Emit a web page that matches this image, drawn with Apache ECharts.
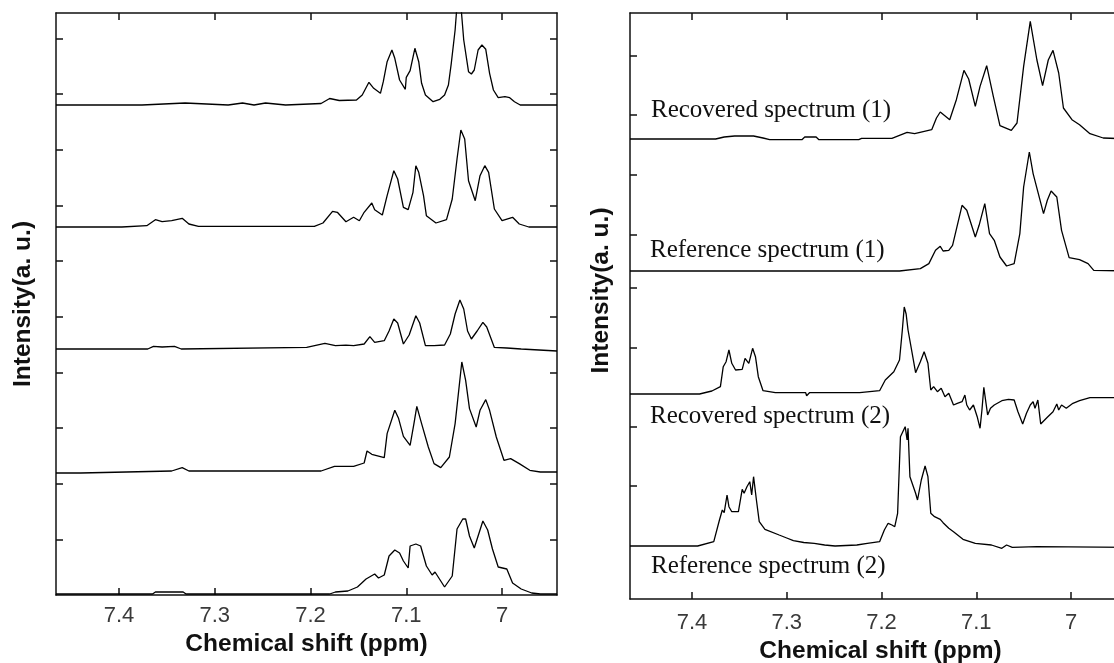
<!DOCTYPE html>
<html><head><meta charset="utf-8">
<script src="https://cdn.jsdelivr.net/npm/echarts@6/dist/echarts.min.js"></script>
<style>html,body{margin:0;padding:0;overflow:hidden;background:#fff}#c{width:1140px;height:663px}</style>
</head><body><div id="c"></div><script>
// ---- tick values / labels ----
const xTicks = [7.4, 7.3, 7.2, 7.1, 7.0];
const xTickLabels = ['7.4', '7.3', '7.2', '7.1', '7'];
const leftYTicks = [55.7, 111.3, 167, 222.7, 278.3, 334, 389.7, 445.3, 501, 556.7];
const rightYTicks = [113, 172.3, 251.7, 311.7, 364.7, 424.7, 484, 543.3];

// ---- left panel spectra: [ppm, intensity above own baseline] ----
const L1 = [[7.4658,0],[7.376,0],[7.374,2],[7.331,2],[7.329,0],[7.286,0],[7.284,2],[7.271,2],[7.269,0],[7.259,0],[7.257,2],[7.247,2],[7.245,0],[7.226,0],[7.224,1.5],[7.189,1.5],[7.180,6.5],[7.170,4.5],[7.152,5],[7.146,10],[7.139,22.7],[7.134,16.7],[7.127,11.7],[7.124,23.3],[7.120,43.3],[7.115,55],[7.112,46.7],[7.107,25],[7.101,15.7],[7.100,27.7],[7.096,34.3],[7.091,56.7],[7.087,43.3],[7.084,21.7],[7.080,10],[7.072,3.3],[7.065,5.7],[7.060,10],[7.056,20],[7.053,41.7],[7.049,75],[7.047,100],[7.043,100],[7.040,65],[7.035,33.3],[7.032,31],[7.029,35],[7.025,55],[7.021,60],[7.017,55.7],[7.013,31.7],[7.009,15],[7.004,7.3],[6.997,8.3],[6.992,7.3],[6.987,3.3],[6.981,0],[6.9426,0]];
const L2 = [[7.4658,0],[7.397,0],[7.395,1.3],[7.371,1.3],[7.362,7.3],[7.355,5.3],[7.345,6.3],[7.334,8.7],[7.327,3],[7.317,0.7],[7.258,0.7],[7.256,-1],[7.252,0.7],[7.196,0.7],[7.187,4],[7.177,15.7],[7.172,14.7],[7.163,5.3],[7.155,9.7],[7.149,6.3],[7.144,14.7],[7.136,24],[7.133,17.3],[7.125,12],[7.120,31.3],[7.113,56.3],[7.109,48],[7.103,19.7],[7.098,17.3],[7.093,34.7],[7.090,61.3],[7.087,54.7],[7.082,31.3],[7.079,11.3],[7.069,4],[7.058,7.3],[7.052,28],[7.047,68],[7.043,97],[7.039,88],[7.035,46.3],[7.028,26.3],[7.023,51.3],[7.018,61.3],[7.014,54.7],[7.008,18],[7.000,6.3],[6.989,9.7],[6.982,3],[6.972,0],[6.9426,0]];
const L3 = [[7.4658,0],[7.370,0],[7.364,2.6],[7.355,2],[7.342,2.6],[7.335,0],[7.204,1.6],[7.185,5.6],[7.174,3.3],[7.163,3.8],[7.155,3.3],[7.144,5],[7.138,12.3],[7.133,6.6],[7.123,8.3],[7.118,18],[7.113,30],[7.109,26],[7.103,5],[7.097,14],[7.090,33.3],[7.086,26],[7.080,3.3],[7.071,3.3],[7.060,4],[7.054,15],[7.049,35],[7.044,49],[7.040,40],[7.036,18],[7.032,10],[7.026,18],[7.020,26.6],[7.016,22],[7.008,1.6],[6.995,1],[6.980,0],[6.9426,-2]];
const L4 = [[7.4658,-1],[7.44,-1],[7.438,1],[7.345,1],[7.334,4.4],[7.327,1],[7.189,1],[7.175,5.7],[7.155,5.7],[7.144,9],[7.141,21],[7.136,17.7],[7.123,14.4],[7.120,38.4],[7.112,61.7],[7.108,53.4],[7.103,35.7],[7.096,26.7],[7.092,48.4],[7.089,65.7],[7.084,48.4],[7.077,25],[7.071,8.4],[7.064,4.4],[7.055,15],[7.049,48.4],[7.042,110],[7.038,91.7],[7.034,63.4],[7.027,45],[7.023,61.7],[7.017,72.4],[7.013,61.7],[7.006,35],[6.998,11.7],[6.991,13.4],[6.982,8.4],[6.971,1.7],[6.960,0],[6.9426,0]];
const L5 = [[7.4658,0],[7.365,0],[7.362,2],[7.333,2],[7.330,0],[7.180,0],[7.174,2],[7.161,3],[7.151,7],[7.142,15],[7.133,20],[7.129,16],[7.123,19],[7.118,38],[7.112,44],[7.107,41],[7.103,33],[7.098,26],[7.096,48],[7.090,50],[7.085,48],[7.079,28],[7.073,19],[7.070,22],[7.066,16],[7.060,7],[7.052,18],[7.047,65],[7.041,75],[7.038,75],[7.034,58],[7.029,46],[7.024,61],[7.020,73],[7.015,64],[7.010,45],[7.004,27],[6.995,25],[6.989,11],[6.980,5],[6.969,1],[6.960,0],[6.9426,0]];
const leftOffsets = [490, 368, 246, 123, 1];

// ---- right panel spectra ----
const recovered1 = [[7.4654,0],[7.375,0],[7.366,2],[7.355,3],[7.335,3],[7.325,1],[7.318,-0.7],[7.284,-0.7],[7.281,2],[7.269,2],[7.266,-0.7],[7.224,-0.7],[7.221,0.6],[7.189,0.6],[7.173,6.6],[7.165,5.3],[7.147,9.3],[7.142,21],[7.138,27],[7.128,19.3],[7.121,39.3],[7.113,68.6],[7.108,60],[7.101,32.6],[7.096,52.6],[7.089,73.3],[7.082,42.6],[7.075,13.3],[7.063,8.6],[7.057,16],[7.050,72.6],[7.043,117.6],[7.036,79],[7.030,53.3],[7.024,79],[7.019,88.6],[7.013,66],[7.008,31],[6.999,19.3],[6.991,14.3],[6.980,5.3],[6.966,1],[6.9367,0]];
const reference1 = [[7.4654,0],[7.181,0],[7.159,2.4],[7.150,7.4],[7.143,20.7],[7.138,24.7],[7.135,20],[7.129,20.7],[7.125,25.7],[7.115,65.7],[7.110,60.7],[7.101,34],[7.097,45.7],[7.091,67.4],[7.086,37.4],[7.081,30.7],[7.075,14],[7.068,5],[7.060,7.4],[7.054,37.4],[7.050,84],[7.044,119],[7.040,97.4],[7.029,57.4],[7.025,70.7],[7.021,80],[7.015,74],[7.010,40.7],[7.002,13.4],[6.991,11.4],[6.982,7.4],[6.976,0.7],[6.9367,0]];
const recovered2 = [[7.4654,0],[7.392,0],[7.379,3],[7.370,7.3],[7.367,27.3],[7.364,32.3],[7.361,44],[7.358,30.7],[7.354,24],[7.347,24.7],[7.344,35.7],[7.340,30.7],[7.336,45.7],[7.333,37.3],[7.330,17.3],[7.325,3.3],[7.312,1.3],[7.280,1.3],[7.279,-1.7],[7.276,1.3],[7.223,1.3],[7.202,3.3],[7.196,14],[7.187,22.3],[7.181,34],[7.178,64],[7.176,87],[7.174,80],[7.172,64],[7.164,21.3],[7.159,32.3],[7.155,42.3],[7.151,30.7],[7.148,4],[7.145,7.3],[7.141,2.3],[7.137,5.7],[7.133,-2.7],[7.129,0.7],[7.124,-11],[7.120,-9.3],[7.115,-7.7],[7.112,-1],[7.110,-11],[7.107,-16],[7.103,-11],[7.099,-22.7],[7.096,-34.3],[7.094,-16],[7.092,6.7],[7.090,7.3],[7.088,-21],[7.085,-14.3],[7.081,-11],[7.073,-6.7],[7.066,-5.3],[7.060,-6],[7.056,-17.7],[7.051,-30],[7.047,-19.3],[7.043,-11],[7.040,-7.7],[7.038,-14.3],[7.035,-6],[7.032,-30],[7.025,-23.3],[7.019,-17.7],[7.015,-10],[7.013,-16],[7.010,-11],[7.005,-14.3],[6.998,-9.3],[6.991,-6.7],[6.980,-3.7],[6.9367,-3.7]];
const reference2 = [[7.4654,0],[7.394,0],[7.377,4.3],[7.371,26],[7.368,36],[7.366,33.3],[7.363,51],[7.361,39.3],[7.358,34.3],[7.351,34.3],[7.347,56.7],[7.345,52.7],[7.342,59.3],[7.339,64.3],[7.337,51],[7.335,69.3],[7.332,46],[7.329,24.3],[7.323,16.7],[7.308,11],[7.300,8],[7.293,5.3],[7.282,3.5],[7.271,2.7],[7.260,1],[7.249,0],[7.226,1],[7.215,2.7],[7.202,4.3],[7.197,16],[7.193,22.7],[7.189,21],[7.186,19.3],[7.183,32.7],[7.180,109.3],[7.178,111],[7.175,119.3],[7.173,106],[7.172,117.7],[7.170,69.3],[7.164,52.7],[7.162,46],[7.158,66],[7.154,80],[7.151,69.3],[7.148,32.7],[7.144,29.3],[7.138,26.7],[7.135,23.3],[7.129,17.7],[7.124,14.3],[7.114,6.7],[7.101,2.7],[7.084,1],[7.073,-2.3],[7.068,1],[7.062,-1.3],[7.036,-0.7],[6.9367,-1.3]];
const rightOffsets = [460, 328, 205, 53];
const rightLabels = ['Recovered spectrum (1)', 'Reference spectrum (1)', 'Recovered spectrum (2)', 'Reference spectrum (2)'];

const leftX = [6.9426, 7.4658];
const rightX = [6.9367, 7.4654];
const leftYMax = 582, rightYMax = 586;

const ink = '#111';
const frameLine = { color: ink, width: 1.5 };
const tickFmt = v => { const i = xTicks.findIndex(t => Math.abs(t - v) < 1e-9); return i >= 0 ? xTickLabels[i] : ''; };

function xAx(grid, pos, range, withLabel, margin, nameGap) {
  return {
    type: 'value', gridIndex: grid, position: pos, inverse: true, min: range[0], max: range[1],
    axisLine: { show: true, onZero: false, lineStyle: frameLine },
    axisTick: { show: true, inside: true, length: 7, lineStyle: frameLine, customValues: xTicks },
    axisLabel: { show: withLabel, customValues: xTicks, formatter: tickFmt, fontSize: 22,
      fontFamily: 'Liberation Sans', color: '#3a3a3a', margin: margin },
    splitLine: { show: false },
    name: withLabel ? 'Chemical shift (ppm)' : '', nameLocation: 'middle', nameGap: nameGap,
    nameTextStyle: { fontSize: 24.5, fontWeight: 'bold', fontFamily: 'Liberation Sans', color: ink }
  };
}
function yAx(grid, pos, max, ticks, withName, nameGap, pad) {
  return {
    type: 'value', gridIndex: grid, position: pos, min: 0, max: max,
    axisLine: { show: true, onZero: false, lineStyle: frameLine },
    axisTick: { show: true, inside: true, length: 7, lineStyle: frameLine, customValues: ticks },
    axisLabel: { show: false }, splitLine: { show: false },
    name: withName ? 'Intensity(a. u.)' : '', nameLocation: 'middle', nameGap: nameGap,
    nameTextStyle: { fontSize: 24.5, fontWeight: 'bold', fontFamily: 'Liberation Sans', color: ink, padding: pad }
  };
}
function spec(data, off, xi, yi) {
  return { type: 'line', xAxisIndex: xi, yAxisIndex: yi, data: data.map(p => [p[0], p[1] + off]),
    showSymbol: false, symbol: 'none', clip: true, lineStyle: { color: '#000', width: 1.3 }, silent: true };
}

const series = [];
[L1, L2, L3, L4, L5].forEach((d, i) => series.push(spec(d, leftOffsets[i], 0, 0)));
[recovered1, reference1, recovered2, reference2].forEach((d, i) => series.push(spec(d, rightOffsets[i], 2, 2)));

const labelFont = '25px "Liberation Serif"';
const chart = echarts.init(document.getElementById('c'), null, { renderer: 'canvas' });
chart.setOption({
  animation: false,
  backgroundColor: '#fff',
  grid: [
    { left: 56, top: 13, width: 501, height: leftYMax, outerBoundsMode: 'none' },
    { left: 630, top: 13, width: 501, height: rightYMax, outerBoundsMode: 'none' }
  ],
  xAxis: [
    xAx(0, 'bottom', leftX, true, 10, 36),
    xAx(0, 'top', leftX, false, 8, 0),
    xAx(1, 'bottom', rightX, true, 13, 40),
    xAx(1, 'top', rightX, false, 8, 0)
  ],
  yAxis: [
    yAx(0, 'left', leftYMax, leftYTicks, true, 20, [0, 0, 0, 0]),
    yAx(0, 'right', leftYMax, leftYTicks, false, 0, 0),
    yAx(1, 'left', rightYMax, rightYTicks, true, 16.5, [0, 0, 0, 31])
  ],
  series: series,
  graphic: [
    { type: 'text', x: 651, y: 110, style: { text: rightLabels[0], font: labelFont, fill: ink, verticalAlign: 'middle' } },
    { type: 'text', x: 650, y: 250, style: { text: rightLabels[1], font: labelFont, fill: ink, verticalAlign: 'middle' } },
    { type: 'text', x: 650, y: 416, style: { text: rightLabels[2], font: labelFont, fill: ink, verticalAlign: 'middle' } },
    { type: 'text', x: 651, y: 566, style: { text: rightLabels[3], font: labelFont, fill: ink, verticalAlign: 'middle' } }
  ]
});
</script></body></html>
